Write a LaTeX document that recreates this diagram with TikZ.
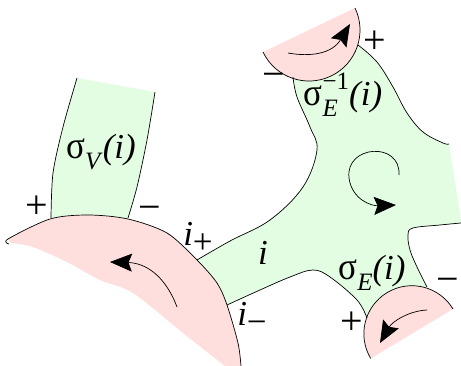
\documentclass[tikz,border=0pt]{standalone}
\usepackage{fontspec}
\setmainfont{Liberation Serif}
\usetikzlibrary{arrows.meta}
\definecolor{gfill}{RGB}{227,253,227}
\definecolor{pfill}{RGB}{255,222,222}
\newcommand{\sbs}[1]{\raisebox{-0.32em}{\fontsize{25}{25}\selectfont\textit{#1}}}
\newcommand{\sps}[1]{\raisebox{0.45em}{\fontsize{25}{25}\selectfont #1}}
\newcommand{\sg}{\scalebox{1}[1.1]{σ}}
\begin{document}
\begin{tikzpicture}[x=1pt,y=-1pt,line width=0.7pt,
  lbl/.style={font=\fontsize{35}{37}\selectfont,inner sep=0pt},
  sgn/.style={font=\fontsize{40}{42}\selectfont,inner sep=0pt},
  arr/.style={-{Stealth[length=22pt,width=18pt,inset=3.5pt]}}]
\useasboundingbox (0,0) rectangle (461,366);
% green fills
\fill[gfill] plot[smooth,tension=0.6] coordinates {(197,260) (230,241) (270,220) (303,187) (317,150) (310,127) (297,97) (293,77)}
  -- (320,65) -- (358,45)
  -- plot[smooth,tension=0.6] coordinates {(358,45) (377,62) (393,87) (407,113) (423,132) (443,143) (449,144)}
  -- (461,220) -- (461,223)
  -- plot[smooth,tension=0.6] coordinates {(461,223) (440,225) (413,228) (408,235) (410,250) (417,267) (427,287)}
  -- (412,310) -- (367,318)
  -- plot[smooth,tension=0.6] coordinates {(367,318) (357,300) (330,277) (313,270) (290,277) (260,290) (227,305)}
  -- (210,290) -- cycle;
\fill[gfill] plot[smooth] coordinates {(77,78) (63,127) (53,173) (51,218)} -- (51,232) -- (128,232)
  -- plot[smooth] coordinates {(128,218) (137,187) (147,140) (155,92)} -- cycle;
% pink fills
\fill[pfill] plot[smooth] coordinates {(8,239) (50,219) (88,215) (128,219) (167,233) (197,260) (217,283) (227,305) (238,343) (241,366)}
  -- (225,366) -- plot[smooth] coordinates {(225,366) (183,333) (133,293) (100,280) (67,262) (33,247) (11,243)} -- cycle;
\fill[pfill] (355,8) arc[start angle=-25.6,end angle=154.4,radius=51] -- cycle;
\fill[pfill] (453,309) arc[start angle=-31,end angle=-211,radius=48] -- cycle;
% strokes
\draw plot[smooth,tension=0.6] coordinates {(197,260) (230,241) (270,220) (303,187) (317,150) (310,127) (297,97) (293,77)};
\draw plot[smooth,tension=0.6] coordinates {(358,45) (377,62) (393,87) (407,113) (423,132) (443,143) (449,144)};
\draw plot[smooth,tension=0.6] coordinates {(461,223) (440,225) (413,228) (408,235) (410,250) (417,267) (427,287)};
\draw plot[smooth,tension=0.6] coordinates {(367,318) (357,300) (330,277) (313,270) (290,277) (260,290) (227,305)};
\draw plot[smooth] coordinates {(77,78) (63,127) (53,173) (51,218)};
\draw plot[smooth] coordinates {(128,218) (137,187) (147,140) (155,92)};
\draw plot[smooth] coordinates {(9,244) (8,239) (50,219) (88,215) (128,219) (167,233) (197,260) (217,283) (227,305) (238,343) (241,366)};
\draw (355,8) arc[start angle=-25.6,end angle=154.4,radius=51];
\draw (453,309) arc[start angle=-31,end angle=-211,radius=48];
% arrows
\draw[arr] (177,307) .. controls (165,275) and (145,263) .. (110,262);
\draw[arr] (288,53) .. controls (310,57) and (332,54) .. (350,24);
\draw[arr] (427,310) .. controls (408,311) and (392,322) .. (380,343);
\draw[arr] (399,175) .. controls (401,141) and (345,145) .. (349,178) .. controls (352,200) and (372,206) .. (396,205);
% labels
\node[lbl] (sv) at (101,152) {\sg\sbs{V}\textit{(i)}};
\node[lbl] (se1) at (343,95) {\sg\rlap{\sbs{E}}\sps{−1}\textit{(i)}};
\node[lbl] (se) at (372,273) {\sg\sbs{E}\textit{(i)}};
\node[lbl] (ii) at (263,253) {\textit{i}};
\node[lbl] (ip) at (198,238) {\textit{i}\raisebox{-0.25em}{+}};
\node[lbl] (im) at (252,318) {\textit{i}\raisebox{-0.25em}{−}};
\node[sgn] (p1) at (37,207) {+};
\node[sgn] (m1) at (150,213) {−};
\node[sgn] (m2) at (274,80) {−};
\node[sgn] (p2) at (375,42) {+};
\node[sgn] (m3) at (448,285) {−};
\node[sgn] (p3) at (352,323) {+};
\end{tikzpicture}
\end{document}
